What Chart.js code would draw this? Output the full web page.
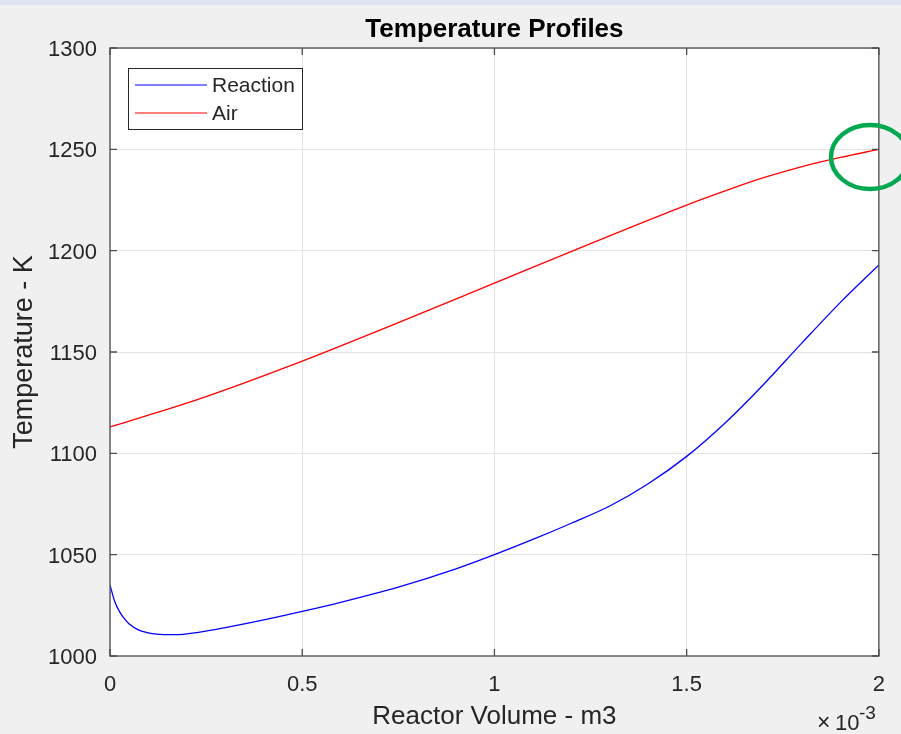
<!DOCTYPE html>
<html>
<head>
<meta charset="utf-8">
<title>Temperature Profiles</title>
<script src="https://cdn.jsdelivr.net/npm/chart.js@4/dist/chart.umd.min.js"></script>
<style>
  html, body { margin: 0; padding: 0; background: #f0f0f0; }
  #wrap { width: 901px; height: 734px; }
</style>
</head>
<body>
<div id="wrap"><canvas id="profile-chart" width="901" height="734"></canvas></div>
<script>
// reactor volume in units of 1e-3 m3 (axis shows the x10^-3 multiplier)
const volumeReaction = [0, 0.013, 0.025, 0.04, 0.05, 0.075, 0.1, 0.12, 0.17, 0.23, 0.3, 0.4, 0.5, 0.6, 0.75, 0.9, 1.0, 1.1, 1.2, 1.3, 1.4, 1.5, 1.6, 1.7, 1.8, 1.9, 2.0];
const tempReaction = [1035, 1026.5, 1021.8, 1017.8, 1015.8, 1012.8, 1011.4, 1010.8, 1010.5, 1011.7, 1014, 1017.8, 1022, 1026.5, 1034, 1043, 1050, 1057.5, 1065.5, 1074, 1085, 1098.5, 1115, 1134, 1154.5, 1174.5, 1193];

const volumeAir = [0, 0.1, 0.25, 0.5, 0.75, 1.0, 1.25, 1.5, 1.6, 1.7, 1.8, 1.9, 2.0];
const tempAir = [1113, 1118.8, 1128, 1145.5, 1164.5, 1184, 1203.5, 1222.5, 1229.5, 1236, 1241.5, 1246, 1250];

const seriesNames = ['Reaction', 'Air'];
const seriesColors = ['#0000ff', '#ff0000'];

const xTicks = [0, 0.5, 1, 1.5, 2];
const yTicks = [1000, 1050, 1100, 1150, 1200, 1250, 1300];

const chartTitle = 'Temperature Profiles';
const xTitle = 'Reactor Volume - m3';
const yTitle = 'Temperature - K';

const FONT = '"Liberation Sans", Arial, Helvetica, sans-serif';
const TEXT = '#262626';

function toPoints(xs, ys) {
    return xs.map((x, i) => ({ x: x, y: ys[i] }));
}

// figure background, matlab-like box, inward ticks, legend, title, annotation
const matlabFrame = {
    id: 'matlabFrame',
    beforeDraw(chart) {
        const { ctx, chartArea: a } = chart;
        ctx.save();
        ctx.fillStyle = '#f0f0f0';
        ctx.fillRect(0, 0, chart.width, chart.height);
        ctx.fillStyle = '#dde5f2';
        ctx.fillRect(0, 0, chart.width, 5);
        ctx.fillStyle = '#ffffff';
        ctx.fillRect(a.left, a.top, a.right - a.left, a.bottom - a.top);
        ctx.restore();
    },
    afterDatasetsDraw(chart) {
        const { ctx, chartArea: a, scales } = chart;
        ctx.save();
        ctx.strokeStyle = '#4d4d4d';
        ctx.lineWidth = 1.3;
        ctx.strokeRect(a.left, a.top, a.right - a.left, a.bottom - a.top);

        ctx.beginPath();
        xTicks.forEach(v => {
            const px = scales.x.getPixelForValue(v);
            ctx.moveTo(px, a.bottom); ctx.lineTo(px, a.bottom - 7);
            ctx.moveTo(px, a.top); ctx.lineTo(px, a.top + 7);
        });
        yTicks.forEach(v => {
            const py = scales.y.getPixelForValue(v);
            ctx.moveTo(a.left, py); ctx.lineTo(a.left + 7, py);
            ctx.moveTo(a.right, py); ctx.lineTo(a.right - 7, py);
        });
        ctx.stroke();

        // title
        ctx.fillStyle = '#000000';
        ctx.font = 'bold 26px ' + FONT;
        ctx.textAlign = 'center';
        ctx.textBaseline = 'alphabetic';
        ctx.fillText(chartTitle, (a.left + a.right) / 2, 37);

        // exponent label
        ctx.fillStyle = TEXT;
        ctx.textAlign = 'left';
        ctx.font = '23px ' + FONT;
        ctx.fillText('\u00d7', 817, 730);
        ctx.font = '22px ' + FONT;
        ctx.fillText('10', 835, 730);
        ctx.font = '19px ' + FONT;
        ctx.fillText('-3', 859, 719);

        // legend
        const lx = 128, ly = 68, lw = 174, lh = 61;
        ctx.fillStyle = '#ffffff';
        ctx.fillRect(lx, ly, lw, lh);
        ctx.strokeStyle = '#262626';
        ctx.lineWidth = 1;
        ctx.strokeRect(lx + 0.5, ly + 0.5, lw, lh);
        ctx.font = '21px ' + FONT;
        ctx.textBaseline = 'middle';
        chart.data.datasets.forEach((ds, i) => {
            const y = ly + 17 + i * 28;
            ctx.strokeStyle = ds.borderColor;
            ctx.lineWidth = 1.2;
            ctx.beginPath();
            ctx.moveTo(lx + 7, y); ctx.lineTo(lx + 79, y);
            ctx.stroke();
            ctx.fillStyle = TEXT;
            ctx.fillText(ds.label, lx + 84, y + 1);
        });

        // green annotation ring at the end of the air curve
        ctx.strokeStyle = '#00a84f';
        ctx.lineWidth = 4.5;
        ctx.beginPath();
        ctx.ellipse(870, 157, 39, 32, 0, 0, Math.PI * 2);
        ctx.stroke();
        ctx.restore();
    }
};

const ctx = document.getElementById('profile-chart');

new Chart(ctx, {
    type: 'line',
    data: {
        datasets: [
            {
                label: seriesNames[0],
                data: toPoints(volumeReaction, tempReaction),
                borderColor: seriesColors[0],
                borderWidth: 1.3,
                pointRadius: 0,
                cubicInterpolationMode: 'monotone',
                fill: false
            },
            {
                label: seriesNames[1],
                data: toPoints(volumeAir, tempAir),
                borderColor: seriesColors[1],
                borderWidth: 1.3,
                pointRadius: 0,
                cubicInterpolationMode: 'monotone',
                fill: false
            }
        ]
    },
    options: {
        responsive: false,
        animation: false,
        layout: { padding: { top: 48, right: 22, bottom: 0, left: 0 } },
        plugins: {
            legend: { display: false },
            tooltip: { enabled: false },
            title: { display: false }
        },
        scales: {
            x: {
                type: 'linear',
                min: 0,
                max: 2,
                afterFit(scale) { scale.height = 78; },
                afterBuildTicks(scale) { scale.ticks = xTicks.map(v => ({ value: v })); },
                grid: { color: '#e3e3e3', drawTicks: false, lineWidth: 1 },
                border: { display: false },
                ticks: {
                    padding: 16,
                    color: TEXT,
                    font: { family: FONT, size: 22 },
                    callback: v => String(v)
                },
                title: {
                    display: true,
                    text: xTitle,
                    color: TEXT,
                    font: { family: FONT, size: 26 },
                    padding: { top: 0, bottom: 2 }
                }
            },
            y: {
                min: 1000,
                max: 1300,
                afterFit(scale) { scale.width = 110; },
                afterBuildTicks(scale) { scale.ticks = yTicks.map(v => ({ value: v })); },
                grid: { color: '#e3e3e3', drawTicks: false, lineWidth: 1 },
                border: { display: false },
                ticks: {
                    padding: 13,
                    labelOffset: 2,
                    color: TEXT,
                    font: { family: FONT, size: 22 },
                    callback: v => String(v)
                },
                title: {
                    display: true,
                    text: yTitle,
                    color: TEXT,
                    font: { family: FONT, size: 27 },
                    padding: { top: 8, bottom: 0 }
                }
            }
        }
    },
    plugins: [matlabFrame]
});
</script>
</body>
</html>
